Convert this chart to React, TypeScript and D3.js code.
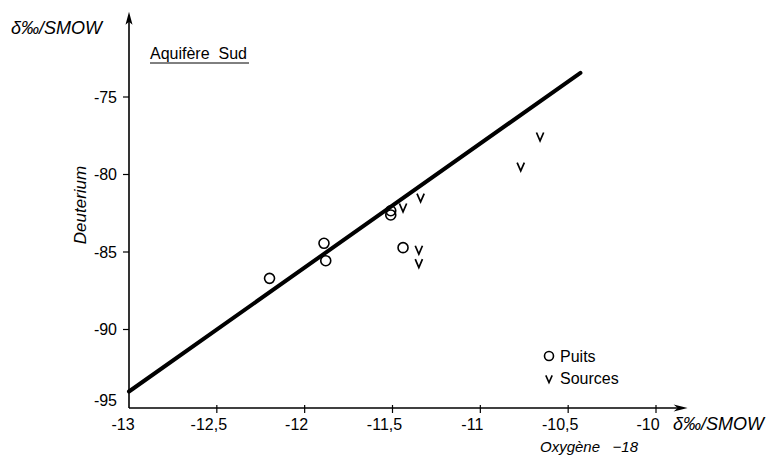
import React from "react";
import * as d3 from "d3";

const xTicks = [-13, -12.5, -12, -11.5, -11, -10.5, -10];
const xTickLabels = ["-13", "-12,5", "-12", "-11,5", "-11", "-10,5", "-10"];
const yTicks = [-75, -80, -85, -90, -95];
const yTickLabels = ["-75", "-80", "-85", "-90", "-95"];

const puitsX = [-12.2, -11.89, -11.88, -11.51, -11.51, -11.44];
const puitsY = [-86.7, -84.44, -85.56, -82.34, -82.61, -84.72];

const sourcesX = [-11.44, -11.34, -11.35, -11.35, -10.66, -10.77];
const sourcesY = [-82.14, -81.5, -84.87, -85.73, -77.56, -79.5];

const lineX = [-13, -10.43];
const lineY = [-94, -73.44];

const legendLabels = ["Puits", "Sources"];

const FONT = "'Liberation Sans', Arial, Helvetica, sans-serif";

function vPath(cx: number, cy: number, w = 3.6, h = 4.2) {
  return `M${cx - w},${cy - h} L${cx},${cy + h} L${cx + w},${cy - h}`;
}

export default function App() {
  const W = 770;
  const H = 455;
  const x = d3.scaleLinear().domain([-13, -10]).range([129, 656]);
  const y = d3.scaleLinear().domain([-95, -75]).range([407, 97]);

  const xAxisEnd = x(-9.82);
  const yAxisTop = y(-69.5);
  const x0 = x(-13);
  const y0 = y(-95) + 1;

  const lineGen = d3
    .line<number>()
    .x((d) => x(lineX[d]))
    .y((d) => y(lineY[d]));

  return (
    <svg
      width={W}
      height={H}
      style={{ position: "absolute", left: 0, top: 0, background: "#fff" }}
      fontFamily={FONT}
    >
      <rect x={0} y={0} width={W} height={H} fill="#fff" />
      {/* Y axis */}
      <line x1={x0} y1={y0} x2={x0} y2={yAxisTop + 8} stroke="#000" strokeWidth={1.6} />
      <path
        d={`M${x0},${yAxisTop} L${x0 - 3.5},${yAxisTop + 13} L${x0},${yAxisTop + 10} L${x0 + 3.5},${yAxisTop + 13} Z`}
        fill="#000"
      />
      {/* X axis */}
      <line x1={x0} y1={y0} x2={xAxisEnd - 8} y2={y0} stroke="#000" strokeWidth={1.6} />
      <path
        d={`M${xAxisEnd},${y0} L${xAxisEnd - 14},${y0 - 3.5} L${xAxisEnd - 10},${y0} L${xAxisEnd - 14},${y0 + 3.5} Z`}
        fill="#000"
      />
      {/* Y ticks */}
      {yTicks.map((t, i) => (
        <g key={"yt" + i}>
          {t !== -95 && (
            <line x1={x0 - 6} x2={x0} y1={y(t)} y2={y(t)} stroke="#000" strokeWidth={1.2} />
          )}
          <text
            x={117}
            y={y(t) + (t === -95 ? -7 : 0)}
            textAnchor="end"
            dominantBaseline="central"
            fontSize={16}
          >
            {yTickLabels[i]}
          </text>
        </g>
      ))}
      {/* X ticks */}
      {xTicks.map((t, i) => (
        <g key={"xt" + i}>
          {t !== -13 && (
            <line x1={x(t)} x2={x(t)} y1={y0 - 3} y2={y0 + 5} stroke="#000" strokeWidth={1.2} />
          )}
          <text
            x={x(t) - (t === -13 ? 6 : 8)}
            y={y0 + 16}
            textAnchor="middle"
            dominantBaseline="central"
            fontSize={16}
          >
            {xTickLabels[i]}
          </text>
        </g>
      ))}
      {/* Axis labels */}
      <text x={11} y={28} dominantBaseline="central" fontSize={18} fontStyle="italic">
        δ‰/SMOW
      </text>
      <text x={673} y={y0 + 16} dominantBaseline="central" fontSize={18} fontStyle="italic">
        δ‰/SMOW
      </text>
      <text
        x={638}
        y={y0 + 38}
        textAnchor="end"
        dominantBaseline="central"
        fontSize={15}
        fontStyle="italic"
        style={{ whiteSpace: "pre" }}
      >
        {"Oxygène   −18"}
      </text>
      <text
        transform={`translate(80,205) rotate(-90)`}
        textAnchor="middle"
        dominantBaseline="central"
        fontSize={17}
        fontStyle="italic"
      >
        Deuterium
      </text>
      {/* Title */}
      <text x={150} y={59} fontSize={16} style={{ whiteSpace: "pre" }}>
        {"Aquifère  Sud"}
      </text>
      <line x1={150} x2={249} y1={63} y2={63} stroke="#000" strokeWidth={1} />
      {/* Regression line */}
      <path d={lineGen([0, 1]) || ""} stroke="#000" strokeWidth={4} fill="none" strokeLinecap="round" />
      {/* Puits */}
      {puitsX.map((v, i) => (
        <circle key={"p" + i} cx={x(v)} cy={y(puitsY[i])} r={5} fill="none" stroke="#000" strokeWidth={1.6} />
      ))}
      {/* Sources */}
      {sourcesX.map((v, i) => (
        <path key={"s" + i} d={vPath(x(v), y(sourcesY[i]))} fill="none" stroke="#000" strokeWidth={1.7} />
      ))}
      {/* Legend */}
      <circle cx={549} cy={356} r={4.5} fill="none" stroke="#000" strokeWidth={1.6} />
      <text x={560} y={356} dominantBaseline="central" fontSize={16}>
        {legendLabels[0]}
      </text>
      <path d={vPath(549, 379, 3.2, 3.6)} fill="none" stroke="#000" strokeWidth={1.6} />
      <text x={560} y={378} dominantBaseline="central" fontSize={16}>
        {legendLabels[1]}
      </text>
    </svg>
  );
}
